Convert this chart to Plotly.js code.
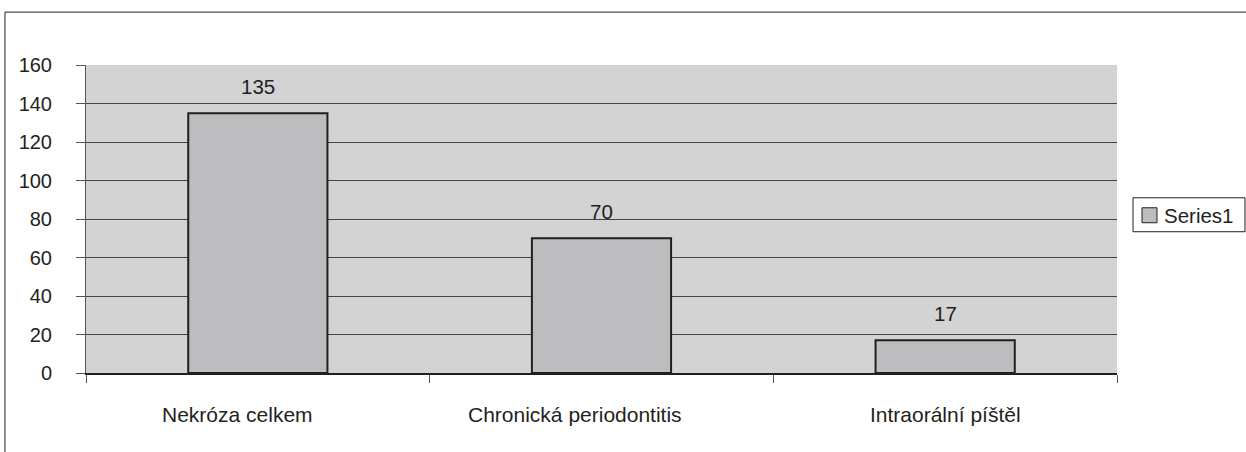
<!DOCTYPE html>
<html>
<head>
<meta charset="utf-8">
<script src="https://cdn.plot.ly/plotly-3.0.1.min.js"></script>
<style>
html,body{margin:0;padding:0;background:#fff;overflow:hidden;}
#chart{width:1246px;height:452px;}
</style>
</head>
<body>
<div id="chart"></div>
<script>
const categories = ["Nekróza celkem", "Chronická periodontitis", "Intraorální píštěl"];
const values = [135, 70, 17];
const seriesName = "Series1";
const yTicks = [0, 20, 40, 60, 80, 100, 120, 140, 160];

const barColor = "#bdbdc0";
const lineColor = "#231f20";
const fam = "Liberation Sans, Arial, Helvetica, sans-serif";
const font = {family: fam, size: 20.5, color: "#231f20"};
const yFont = {family: fam, size: 20, color: "#231f20"};
const xFont = {family: fam, size: 21, color: "#231f20"};
const xLabelShift = [-20, -27, 0];

const trace = {
  type: "bar",
  x: categories,
  y: values,
  name: seriesName,
  marker: {color: barColor, line: {color: lineColor, width: 2}},
  hoverinfo: "skip",
  showlegend: false
};

const annotations = categories.map((c, i) => ({
  x: c, y: values[i], xref: "x", yref: "y",
  text: String(values[i]),
  showarrow: false,
  yanchor: "bottom",
  yshift: 13,
  font: font
}));

// category labels (placed as in the original, slightly off-centre)
categories.forEach((c, i) => {
  annotations.push({
    x: c, y: 0, xref: "x", yref: "paper",
    text: c, showarrow: false,
    xanchor: "center", yanchor: "top",
    xshift: xLabelShift[i], yshift: -28,
    font: xFont
  });
});

// legend drawn as box + swatch + label
annotations.push({
  xref: "paper", yref: "paper",
  x: 1.04462, y: 0.51216, xanchor: "left", yanchor: "middle",
  text: seriesName, showarrow: false, borderpad: 0,
  font: font
});

const layout = {
  width: 1246, height: 452,
  margin: {l: 86, r: 129, t: 65, b: 78.5, pad: 0},
  paper_bgcolor: "#ffffff",
  plot_bgcolor: "#d3d3d4",
  font: font,
  bargap: 0.595,
  showlegend: false,
  xaxis: {
    type: "category",
    showgrid: false,
    showline: true, linecolor: "#231f20", linewidth: 2,
    ticks: "outside", ticklen: 8, tickcolor: "#555", tickwidth: 1,
    tickson: "boundaries",
    showticklabels: false,
    fixedrange: true
  },
  yaxis: {
    range: [0, 160],
    tickvals: yTicks,
    ticktext: yTicks.map(String),
    showgrid: true, gridcolor: "#444", gridwidth: 1,
    showline: true, linecolor: "#555", linewidth: 1,
    ticks: "outside", ticklen: 9, tickcolor: "#555", tickwidth: 1,
    ticklabelstandoff: 20,
    zeroline: false,
    tickfont: yFont,
    fixedrange: true
  },
  annotations: annotations,
  shapes: [
    {
      type: "rect", xref: "paper", yref: "paper",
      x0: -0.0786, x1: 1.3, y0: -0.4, y1: 1.1718,
      line: {color: "#231f20", width: 1}, fillcolor: "rgba(0,0,0,0)",
      layer: "below"
    },
    {
      type: "rect", xref: "paper", yref: "paper",
      x0: 1.01552, x1: 1.12415, y0: 0.45867, y1: 0.56888,
      line: {color: "#231f20", width: 1}, fillcolor: "#ffffff"
    },
    {
      type: "rect", xref: "paper", yref: "paper",
      x0: 1.02425, x1: 1.03880, y0: 0.48784, y1: 0.53647,
      line: {color: lineColor, width: 1}, fillcolor: barColor
    }
  ]
};

Plotly.newPlot("chart", [trace], layout, {displayModeBar: false, staticPlot: true});
</script>
</body>
</html>
